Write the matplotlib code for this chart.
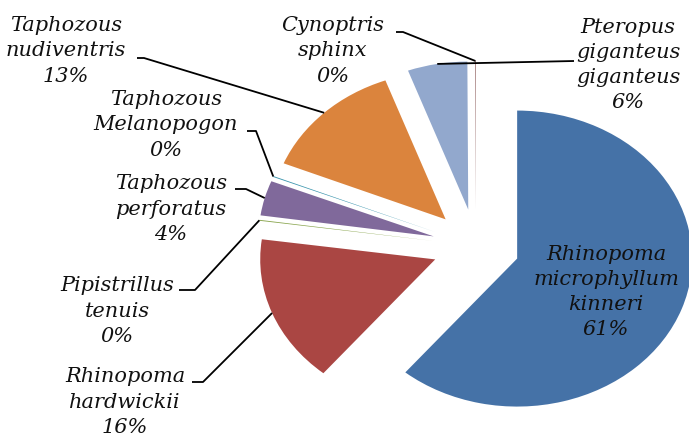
import matplotlib
matplotlib.use("Agg")
import matplotlib.pyplot as plt
import numpy as np

# ---- data ----
species = ["Rhinopoma\nmicrophyllum\nkinneri", "Rhinopoma\nhardwickii",
           "Pipistrillus\ntenuis", "Taphozous\nperforatus",
           "Taphozous\nMelanopogon", "Taphozous\nnudiventris",
           "Pteropus\ngiganteus\ngiganteus", "Cynoptris\nsphinx"]
values = [60.9, 16.1, 0.1, 3.8, 0.1, 13.2, 5.5, 0.08]
pct_labels = ["61%", "16%", "0%", "4%", "0%", "13%", "6%", "0%"]
colors = ["#4572A7", "#AA4643", "#89A54E", "#80699B",
          "#3D96AE", "#DB843D", "#92A8CD", "#A47D7C"]

# ---- layout (pixel geometry of the 689x436 canvas) ----
W, H = 689, 436
CX, CY = 476, 246        # pie centre in pixels
RX, RY = 175, 148        # pixel radius horizontally / vertically


def px(xp, yp):
    return ((xp - CX) / RX, (CY - yp) / RY)


fig = plt.figure(figsize=(W / 100, H / 100), dpi=100)
ax = fig.add_axes([0, 0, 1, 1])
wedges, _ = ax.pie(values, colors=colors, startangle=90, counterclock=False,
                   explode=[0.25] * len(values), radius=1,
                   wedgeprops=dict(linewidth=0))
ax.set_aspect("auto")
ax.set_xlim(px(0, 0)[0], px(W, 0)[0])
ax.set_ylim(px(0, H)[1], px(0, 0)[1])
ax.axis("off")

# label centre (px), leader line start points (px) or None
label_pos = [(606, 292), (125, 402), (117, 311), (171, 209),
             (166, 125), (66, 51), (628, 65), (333, 51)]
leaders = [None,
           [(192, 382), (203, 382)],
           [(179, 290), (195, 290)],
           [(235, 189), (246, 189)],
           [(247, 131), (256, 131)],
           [(137, 58), (144, 58)],
           [(574, 61)],
           [(396, 32), (403, 32)]]

font = dict(family="DejaVu Serif", style="italic", size=15, color="#111111")

for w, name, pct, pos, lead in zip(wedges, species, pct_labels, label_pos, leaders):
    x, y = px(*pos)
    ax.text(x, y, name + "\n" + pct, ha="center", va="center",
            multialignment="center", linespacing=1.42, **font)
    if lead is None:
        continue
    mid = np.radians((w.theta1 + w.theta2) / 2)
    ex = w.center[0] + w.r * np.cos(mid)
    ey = w.center[1] + w.r * np.sin(mid)
    xs = [px(*p)[0] for p in lead] + [ex]
    ys = [px(*p)[1] for p in lead] + [ey]
    ax.plot(xs, ys, color="black", lw=1.3, solid_capstyle="butt")

fig.savefig("out.png", dpi=100)
